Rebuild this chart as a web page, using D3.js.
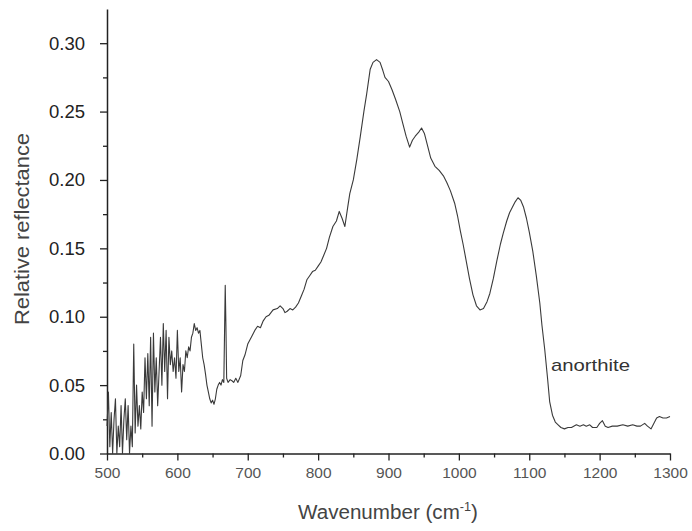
<!DOCTYPE html>
<meta charset="utf-8">
<script src="https://cdnjs.cloudflare.com/ajax/libs/d3/7.8.5/d3.min.js"></script>
<style>
    body { margin: 0; background: #fff; font-family: Arial, 'Liberation Sans', sans-serif; }
    .axis .domain { stroke: #222; stroke-width: 1.5; }
    .axis line { stroke: #222; stroke-width: 1.3; }
</style>
<svg width="692" height="531"></svg>
<script>
    // spectrum values
    var wavenumber = [500,502,504,506,508,510,512,514,516,518,520,522,524,526,528,530,532,534,536,538,540,542,544,546,548,550,552,554,556,558,560,562,564,566,568,570,572,574,576,578,580,582,584,586,588,590,592,594,596,598,600,602,604,606,608,610,612,614,616,618,620,622,624,626,628,630,632,634,636,638,640,642,644,646,648,650,652,654,656,658,660,662,664,666,668,669,670,672,675,678,680,683,686,690,693,696,700,703,706,710,714,718,722,726,730,736,742,746,750,753,756,760,764,768,772,776,780,784,788,792,796,800,804,808,812,816,821,826,830,834,838,842,845,850,855,860,865,869,874,878,883,888,892,895,900,905,910,916,920,925,930,934,938,943,947,951,955,960,966,972,978,983,988,994,998,1002,1006,1010,1015,1020,1025,1030,1035,1040,1044,1049,1054,1059,1063,1068,1072,1076,1080,1084,1088,1092,1096,1100,1105,1110,1115,1118,1122,1126,1129,1133,1137,1141,1145,1150,1155,1160,1167,1172,1177,1181,1186,1190,1196,1200,1204,1208,1212,1218,1225,1233,1240,1247,1253,1258,1264,1268,1273,1277,1281,1285,1290,1295,1300];
    var reflectance = [0.020,0.045,0.005,0.030,0.000,0.025,0.040,0.000,0.020,0.005,0.035,0.000,0.025,0.040,0.010,0.035,0.000,0.020,0.005,0.080,0.015,0.050,0.020,0.035,0.018,0.045,0.030,0.070,0.040,0.073,0.035,0.085,0.020,0.088,0.045,0.070,0.035,0.060,0.085,0.050,0.095,0.060,0.090,0.040,0.085,0.065,0.075,0.060,0.070,0.055,0.090,0.060,0.070,0.045,0.065,0.060,0.075,0.070,0.078,0.075,0.085,0.088,0.095,0.090,0.092,0.088,0.090,0.080,0.070,0.065,0.058,0.050,0.045,0.040,0.037,0.039,0.036,0.040,0.047,0.050,0.052,0.050,0.054,0.052,0.123,0.093,0.055,0.052,0.054,0.053,0.052,0.055,0.052,0.057,0.068,0.072,0.080,0.083,0.086,0.090,0.093,0.092,0.097,0.100,0.101,0.105,0.106,0.108,0.106,0.103,0.104,0.106,0.105,0.107,0.110,0.115,0.120,0.127,0.130,0.133,0.134,0.137,0.140,0.145,0.150,0.158,0.166,0.170,0.177,0.172,0.166,0.180,0.190,0.200,0.215,0.232,0.250,0.263,0.281,0.286,0.288,0.286,0.280,0.275,0.272,0.266,0.259,0.250,0.242,0.232,0.224,0.229,0.232,0.235,0.238,0.234,0.226,0.216,0.210,0.207,0.203,0.198,0.192,0.183,0.174,0.163,0.153,0.142,0.128,0.116,0.108,0.105,0.106,0.111,0.117,0.128,0.141,0.153,0.161,0.170,0.176,0.180,0.184,0.187,0.185,0.180,0.172,0.162,0.148,0.130,0.110,0.094,0.076,0.055,0.038,0.028,0.023,0.021,0.019,0.018,0.019,0.019,0.021,0.020,0.021,0.020,0.021,0.019,0.019,0.022,0.024,0.020,0.019,0.020,0.020,0.021,0.020,0.021,0.020,0.020,0.022,0.020,0.018,0.022,0.026,0.027,0.026,0.026,0.027];

    var xTicks = [500, 600, 700, 800, 900, 1000, 1100, 1200, 1300];
    var xMinor = [550, 650, 750, 850, 950, 1050, 1150, 1250];
    var yTicks = [0, 0.05, 0.10, 0.15, 0.20, 0.25, 0.30];
    var yMinor = [0.025, 0.075, 0.125, 0.175, 0.225, 0.275];

    var svg = d3.select("svg");

    var x = d3.scaleLinear().domain([500, 1300]).range([107, 670]);
    var y = d3.scaleLinear().domain([0, 0.325]).range([453.5, 9]);

    // minor ticks first, then the labelled axes on top
    svg.append("g")
        .attr("class", "axis")
        .attr("transform", "translate(0,453.5)")
        .call(d3.axisBottom(x).tickValues(xMinor).tickFormat("").tickSize(4).tickSizeOuter(0))
        .select(".domain").remove();

    svg.append("g")
        .attr("class", "axis")
        .attr("transform", "translate(107,0)")
        .call(d3.axisLeft(y).tickValues(yMinor).tickFormat("").tickSize(4).tickSizeOuter(0))
        .select(".domain").remove();

    var gx = svg.append("g")
        .attr("class", "axis")
        .attr("transform", "translate(0,453.5)")
        .call(d3.axisBottom(x).tickValues(xTicks).tickFormat(d3.format("d")).tickSize(7).tickSizeOuter(0).tickPadding(6));
    gx.selectAll("text")
        .attr("font-size", 15.5)
        .attr("font-family", "Arial, 'Liberation Sans', sans-serif")
        .attr("fill", "#555");

    var gy = svg.append("g")
        .attr("class", "axis")
        .attr("transform", "translate(107,0)")
        .call(d3.axisLeft(y).tickValues(yTicks).tickFormat(d3.format(".2f")).tickSize(7).tickSizeOuter(0).tickPadding(15));
    gy.selectAll("text")
        .attr("font-size", 18.5)
        .attr("font-family", "Arial, 'Liberation Sans', sans-serif")
        .attr("fill", "#222");

    // the spectrum
    var line = d3.line()
        .x(function(d) { return x(d[0]); })
        .y(function(d) { return y(d[1]); });

    svg.append("path")
        .datum(d3.zip(wavenumber, reflectance))
        .attr("fill", "none")
        .attr("stroke", "#3a3a3a")
        .attr("stroke-width", 1.1)
        .attr("stroke-linejoin", "round")
        .attr("d", line);

    // titles
    var xt = svg.append("text")
        .attr("x", 298)
        .attr("y", 519)
        .attr("font-size", 19.5)
        .attr("fill", "#444")
        .attr("textLength", 180)
        .attr("lengthAdjust", "spacingAndGlyphs");
    xt.append("tspan").text("Wavenumber (cm");
    xt.append("tspan").attr("font-size", 12).attr("dy", -8).text("-1");
    xt.append("tspan").attr("dy", 8).text(")");

    svg.append("text")
        .attr("transform", "translate(29,229) rotate(-90)")
        .attr("text-anchor", "middle")
        .attr("font-size", 19.5)
        .attr("fill", "#444")
        .attr("textLength", 192)
        .attr("lengthAdjust", "spacingAndGlyphs")
        .text("Relative reflectance");

    svg.append("text")
        .attr("x", 551)
        .attr("y", 371)
        .attr("font-size", 17)
        .attr("fill", "#333")
        .attr("textLength", 79)
        .attr("lengthAdjust", "spacingAndGlyphs")
        .text("anorthite");
</script>
